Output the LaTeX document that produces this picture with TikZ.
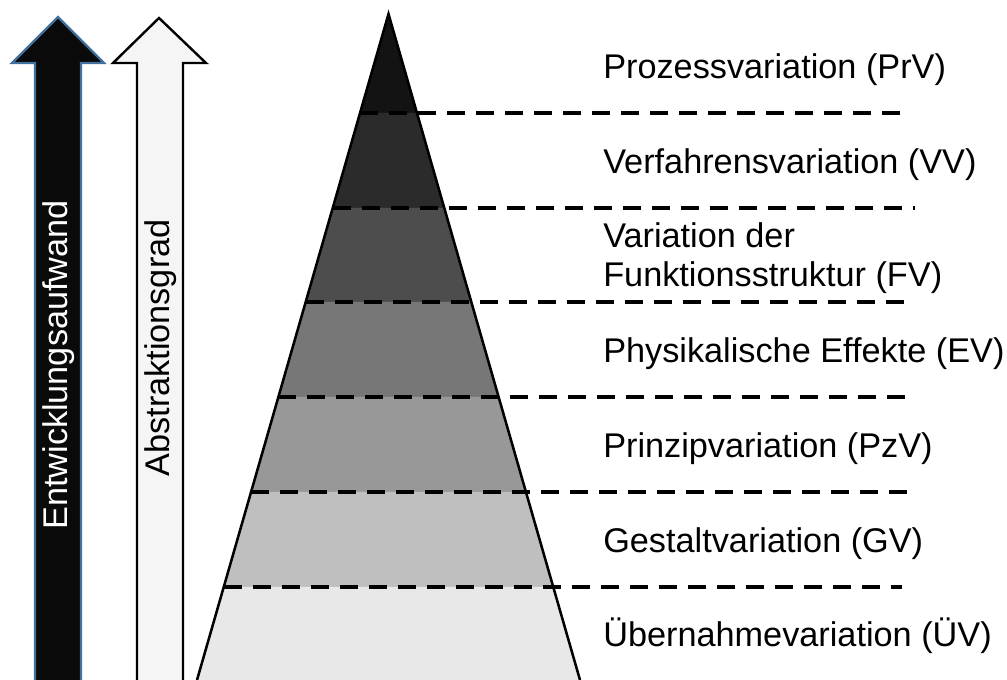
\documentclass[tikz,border=0pt]{standalone}
\usepackage{fontspec}
\setmainfont{Liberation Sans}
\usetikzlibrary{calc}

\definecolor{arrowblue}{HTML}{41719C}
\definecolor{arrowblack}{HTML}{0A0A0A}
\definecolor{arrowwhite}{HTML}{F5F5F5}
\definecolor{bandA}{HTML}{131313}
\definecolor{bandB}{HTML}{2B2B2B}
\definecolor{bandC}{HTML}{4D4D4D}
\definecolor{bandD}{HTML}{777777}
\definecolor{bandE}{HTML}{989898}
\definecolor{bandF}{HTML}{BFBFBF}
\definecolor{bandG}{HTML}{E8E8E8}

\tikzset{
  label/.style={anchor=west,inner sep=0pt,align=left,
    font=\fontsize{25.7}{29}\selectfont},
  levelline/.style={line width=3pt,dash pattern=on 13.5pt off 8.25pt}
}

\begin{document}
\begin{tikzpicture}[x=0.75pt,y=-0.75pt]
        \clip (0,0) rectangle (1007,680);

        % Arrows.
        \draw[fill=arrowblack,draw=arrowblue,line width=1.6pt,line join=miter]
          (58,17) -- (104,63) -- (81,63) -- (81,690) -- (35,690) -- (35,63) -- (12,63) -- cycle;
        \draw[fill=arrowwhite,draw=black,line width=1.8pt,line join=miter]
          (159,18) -- (206,63) -- (183,63) -- (183,690) -- (137,690) -- (137,63) -- (113,63) -- cycle;
        \node[label,anchor=center,rotate=90,text=white] (aufwand) at (59,365) {Entwicklungsaufwand};
        \node[label,anchor=center,rotate=90] (abstraktion) at (161,348) {Abstraktionsgrad};

        % Pyramid (band limits in px from the top).
        \coordinate (apex) at (388.5,14);
        \coordinate (bl) at (197,680);
        \coordinate (br) at (580,680);
        \foreach \ya/\yb/\col in {14/113/bandA,113/208/bandB,208/302/bandC,302/397/bandD,
                                  397/492/bandE,492/587/bandF,587/680/bandG}
          \fill[\col] ($(apex)!{(\ya-14)/666}!(bl)$) -- ($(apex)!{(\yb-14)/666}!(bl)$)
            -- ($(apex)!{(\yb-14)/666}!(br)$) -- ($(apex)!{(\ya-14)/666}!(br)$) -- cycle;
        \draw[line width=1.9pt,line join=miter] (bl) -- (apex) -- (br);

        % Level lines.
        \foreach \k/\yl/\xend in {1/113/911,2/208/915,3/302/909,4/397/911,5/492/907,6/587/902}
          \draw[levelline] let \p1=($(apex)!{(\yl-14)/666}!(bl)$) in
            (\p1) coordinate (start\k) -- (\xend*0.75pt,\y1) coordinate (end\k);

        % Labels.
        \node[label] (prv) at (603,70) {Prozessvariation (PrV)};
        \node[label] (vv) at (603,165) {Verfahrensvariation (VV)};
        \node[label] (fv) at (603,258) {Variation der\\Funktionsstruktur (FV)};
        \node[label] (ev) at (603,354) {Physikalische Effekte (EV)};
        \node[label] (pzv) at (603,449) {Prinzipvariation (PzV)};
        \node[label] (gv) at (603,544) {Gestaltvariation (GV)};
        \node[label] (uev) at (603,636) {Übernahmevariation (ÜV)};
    \end{tikzpicture}
\end{document}
